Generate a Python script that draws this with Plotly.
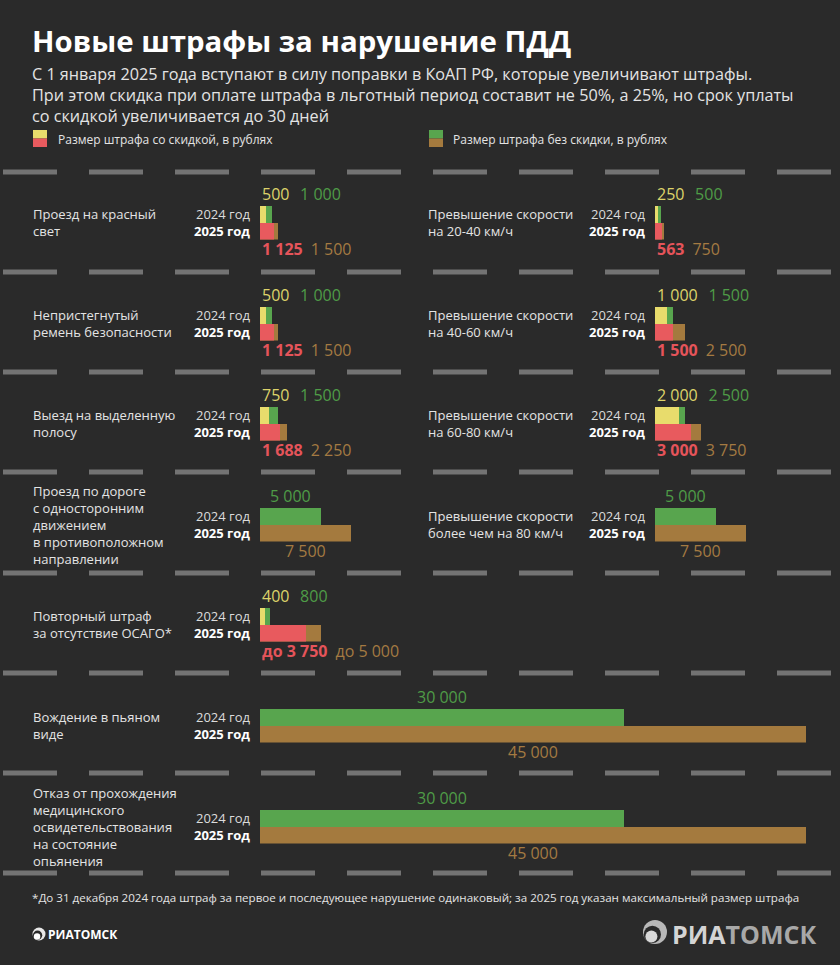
import plotly.graph_objects as go

W, H = 840, 965

# ---------------- data ----------------
left_categories = [
    "Проезд на красный<br>свет",
    "Непристегнутый<br>ремень безопасности",
    "Выезд на выделенную<br>полосу",
    "Проезд по дороге<br>с односторонним<br>движением<br>в противоположном<br>направлении",
    "Повторный штраф<br>за отсутствие ОСАГО*",
    "Вождение в пьяном<br>виде",
    "Отказ от прохождения<br>медицинского<br>освидетельствования<br>на состояние<br>опьянения",
]
left_full_2024 = [1000, 1000, 1500, 5000, 800, 30000, 30000]
left_disc_2024 = [500, 500, 750, None, 400, None, None]
left_full_2025 = [1500, 1500, 2250, 7500, 5000, 45000, 45000]
left_disc_2025 = [1125, 1125, 1688, None, 3750, None, None]
left_prefix_2025 = ["", "", "", "", "до ", "", ""]

right_categories = [
    "Превышение скорости<br>на 20-40 км/ч",
    "Превышение скорости<br>на 40-60 км/ч",
    "Превышение скорости<br>на 60-80 км/ч",
    "Превышение скорости<br>более чем на 80 км/ч",
]
right_full_2024 = [500, 1500, 2500, 5000]
right_disc_2024 = [250, 1000, 2000, None]
right_full_2025 = [750, 2500, 3750, 7500]
right_disc_2025 = [563, 1500, 3000, None]
right_prefix_2025 = ["", "", "", ""]

year_keys = ["2024", "2025"]
year_labels = ["2024 год", "2025 год"]

title_text = "Новые штрафы за нарушение ПДД"
subtitle_lines = [
    "С 1 января 2025 года вступают в силу поправки в КоАП РФ, которые увеличивают штрафы.",
    "При этом скидка при оплате штрафа в льготный период составит не 50%, а 25%, но срок уплаты",
    "со скидкой увеличивается до 30 дней",
]
legend_disc = "Размер штрафа со скидкой, в рублях"
legend_full = "Размер штрафа без скидки, в рублях"
footnote = ("*До 31 декабря 2024 года штраф за первое и последующее нарушение одинаковый; "
            "за 2025 год указан максимальный размер штрафа")

# ---------------- styles / layout constants ----------------
BG = "#2a2a2a"
YELLOW, GREEN, RED, BROWN = "#e8dc6c", "#58a54e", "#e85a5e", "#a47a3e"
YT, GT, RT, BT = "#ddd36a", "#4f9c47", "#e5545a", "#a47a42"
FONT = "Open Sans"
TXT = "#e4e4e4"

PX_PER_RUB = 546 / 45000
BAR_H = 17
left_x0, right_x0 = 260, 655
left_label_x, right_label_x = 33, 428
left_rows_y = [214, 315, 415, 516, 616, 717, 818]
right_rows_y = [214, 315, 415, 516]
dash_rows_y = [172, 272, 372, 472, 573, 673, 773, 873]


def PX(x):
    return x / W


def PY(y):
    return 1 - y / H


def fmt(v):
    return f"{v:,}".replace(",", "\u00a0")


def span(t, c, bold=False):
    t = f"<b>{t}</b>" if bold else t
    return f"<span style='color:{c}'>{t}</span>"


fig = go.Figure()
layout_axes = {}
annotations = []
shapes = []

layout_axes["xaxis"] = dict(domain=[PX(left_x0), 1], range=[0, (W - left_x0) / PX_PER_RUB],
                            visible=False, anchor="y", fixedrange=True)
layout_axes["xaxis2"] = dict(domain=[PX(right_x0), 1], range=[0, (W - right_x0) / PX_PER_RUB],
                             visible=False, anchor="y8", fixedrange=True)

columns = [
    (left_categories, left_full_2024, left_disc_2024, left_full_2025, left_disc_2025,
     left_prefix_2025, left_rows_y, "x", left_label_x),
    (right_categories, right_full_2024, right_disc_2024, right_full_2025, right_disc_2025,
     right_prefix_2025, right_rows_y, "x2", right_label_x),
]

k = 0
for cats, f24, d24, f25, d25, pref, rows_y, xname, lab_x in columns:
    for i, cat in enumerate(cats):
        k += 1
        yname = "y" if k == 1 else f"y{k}"
        ykey = "yaxis" if k == 1 else f"yaxis{k}"
        top = rows_y[i] - BAR_H / 2
        bottom = top + 2 * BAR_H
        layout_axes[ykey] = dict(
            domain=[PY(bottom), PY(top)], type="category", categoryarray=year_keys,
            range=[1.5, -0.5], anchor=xname, tickvals=year_keys,
            ticktext=[span(year_labels[0], "#dcdcdc"), span(year_labels[1], "#ffffff", True)],
            showgrid=False, zeroline=False, showline=False, ticks="",
            ticklabelstandoff=9, tickfont=dict(family=FONT, size=13, color="#dcdcdc"),
            fixedrange=True,
        )
        fig.add_trace(go.Bar(orientation="h", y=year_keys, x=[f24[i], f25[i]],
                             marker=dict(color=[GREEN, BROWN], line=dict(width=0)),
                             width=1, xaxis=xname, yaxis=yname, hoverinfo="skip"))
        p = pref[i]
        if d24[i] is not None:
            fig.add_trace(go.Bar(orientation="h", y=year_keys, x=[d24[i], d25[i]],
                                 marker=dict(color=[YELLOW, RED], line=dict(width=0)),
                                 width=1, xaxis=xname, yaxis=yname, hoverinfo="skip"))
            top_txt = span(fmt(d24[i]), YT) + "\u2002\u2009" + span(fmt(f24[i]), GT)
            bot_txt = span(p + fmt(d25[i]), RT, True) + "\u2002" + span(p + fmt(f25[i]), BT)
            tx, bx, anc = 0, 0, "left"
        else:
            top_txt = span(fmt(f24[i]), GT)
            bot_txt = span(fmt(f25[i]), BT)
            tx, bx, anc = f24[i] / 2, f25[i] / 2, "center"
        annotations.append(dict(text=top_txt, x=tx, y=-0.5, xref=xname, yref=yname,
                                xanchor=anc, yanchor="bottom", yshift=-1, showarrow=False,
                                font=dict(family=FONT, size=16)))
        annotations.append(dict(text=bot_txt, x=bx, y=1.5, xref=xname, yref=yname,
                                xanchor=anc, yanchor="top", yshift=4, showarrow=False,
                                font=dict(family=FONT, size=16)))
        annotations.append(dict(text=cat, x=PX(lab_x - 2), y=0.5, xref="paper", yref=yname,
                                xanchor="left", yanchor="middle", align="left", showarrow=False,
                                font=dict(family=FONT, size=13, color=TXT)))

# title / subtitle
annotations.append(dict(text=f"<b>{title_text}</b>", x=PX(30), y=PY(41), xref="paper", yref="paper",
                        xanchor="left", yanchor="middle", showarrow=False,
                        font=dict(family=FONT, size=29.4, color="#ffffff")))
annotations.append(dict(text="<br>".join(subtitle_lines), x=PX(30), y=PY(94.5),
                        xref="paper", yref="paper", xanchor="left", yanchor="middle",
                        align="left", showarrow=False,
                        font=dict(family=FONT, size=16.2, color=TXT)))

# legend
for sx, c1, c2, txt, tx in [(33, YELLOW, RED, legend_disc, 56), (429, GREEN, BROWN, legend_full, 451)]:
    shapes.append(dict(type="rect", xref="paper", yref="paper", x0=PX(sx), x1=PX(sx + 14),
                       y0=PY(138.5), y1=PY(130), fillcolor=c1, line=dict(width=0)))
    shapes.append(dict(type="rect", xref="paper", yref="paper", x0=PX(sx), x1=PX(sx + 14),
                       y0=PY(147), y1=PY(138.5), fillcolor=c2, line=dict(width=0)))
    annotations.append(dict(text=txt, x=PX(tx), y=PY(139), xref="paper", yref="paper",
                            xanchor="left", yanchor="middle", showarrow=False,
                            font=dict(family=FONT, size=12, color=TXT)))

# road markings
for dy in dash_rows_y:
    shapes.append(dict(type="line", xref="paper", yref="paper", x0=PX(3), x1=1,
                       y0=PY(dy), y1=PY(dy), layer="below",
                       line=dict(color="rgba(175,175,175,0.55)", width=5, dash="54px,32px")))

# footnote
annotations.append(dict(text=footnote, x=PX(30), y=PY(897), xref="paper", yref="paper",
                        xanchor="left", yanchor="middle", showarrow=False,
                        font=dict(family=FONT, size=11.6, color=TXT)))


# logos
def logo_icon(cx, cy, r, col_ring, col_fill):
    shapes.append(dict(type="circle", xref="paper", yref="paper",
                       x0=PX(cx - r), x1=PX(cx + r), y0=PY(cy + r), y1=PY(cy - r),
                       fillcolor=col_ring, line=dict(width=0)))
    ri = r * 0.72
    ox, oy = cx - r * 0.22, cy + r * 0.2
    shapes.append(dict(type="circle", xref="paper", yref="paper",
                       x0=PX(ox - ri), x1=PX(ox + ri), y0=PY(oy + ri), y1=PY(oy - ri),
                       fillcolor=BG, line=dict(width=0)))
    rf = r * 0.5
    fx, fy = cx - r * 0.3, cy + r * 0.38
    shapes.append(dict(type="circle", xref="paper", yref="paper",
                       x0=PX(fx - rf), x1=PX(fx + rf), y0=PY(fy + rf), y1=PY(fy - rf),
                       fillcolor=col_fill, line=dict(width=0)))


logo_icon(39, 934, 6.5, "#e8e8e8", "#ffffff")
logo_icon(655, 932, 12, "#b8b8b8", "#d8d8d8")
annotations.append(dict(text="<b>РИАТОМСК</b>", x=PX(46), y=PY(934), xref="paper", yref="paper",
                        xanchor="left", yanchor="middle", showarrow=False,
                        font=dict(family=FONT, size=12, color="#ffffff")))
annotations.append(dict(text="<b>РИА</b>" + span("ТОМСК", "#a8a8a8", True), x=PX(670), y=PY(934),
                        xref="paper", yref="paper", xanchor="left", yanchor="middle",
                        showarrow=False, font=dict(family=FONT, size=25, color="#d4d4d4")))

fig.update_layout(
    width=W, height=H, margin=dict(l=0, r=0, t=0, b=0),
    paper_bgcolor=BG, plot_bgcolor="rgba(0,0,0,0)",
    barmode="overlay", bargap=0, showlegend=False,
    annotations=annotations, shapes=shapes,
    **layout_axes,
)

fig.write_html("out.html", config={"displayModeBar": False},
               post_script="document.body.style.margin='0';document.body.style.background='#2a2a2a';")
